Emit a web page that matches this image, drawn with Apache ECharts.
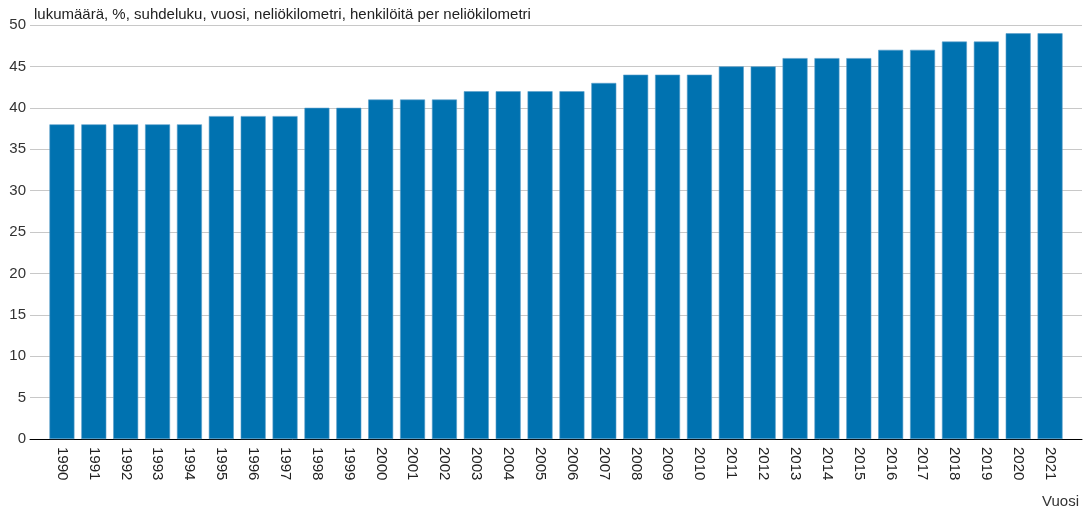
<!DOCTYPE html>
<html>
<head>
<meta charset="utf-8">
<script src="https://cdn.jsdelivr.net/npm/echarts@6/dist/echarts.min.js"></script>
<style>
  html, body { margin: 0; padding: 0; background: #fff; }
  #chart { width: 1084px; height: 516px; }
</style>
</head>
<body>
<div id="chart"></div>
<script>
// vuodet ja arvot
var years = ['1990', '1991', '1992', '1993', '1994', '1995', '1996', '1997', '1998', '1999',
  '2000', '2001', '2002', '2003', '2004', '2005', '2006', '2007', '2008', '2009',
  '2010', '2011', '2012', '2013', '2014', '2015', '2016', '2017', '2018', '2019',
  '2020', '2021'];
var values = [38, 38, 38, 38, 38, 39, 39, 39, 40, 40,
  41, 41, 41, 42, 42, 42, 42, 43, 44, 44,
  44, 45, 45, 46, 46, 46, 47, 47, 48, 48,
  49, 49];
var yTicks = { min: 0, max: 50, interval: 5 };

var chart = echarts.init(document.getElementById('chart'));
var font = 'Liberation Sans, Arial, sans-serif';

chart.setOption({
  animation: false,
  textStyle: { fontFamily: font },
  title: {
    text: 'lukumäärä, %, suhdeluku, vuosi, neliökilometri, henkilöitä per neliökilometri',
    left: 29,
    top: 2,
    textStyle: { fontSize: 15, fontWeight: 'normal', color: '#222', fontFamily: font }
  },
  graphic: [{
    type: 'text',
    right: 5,
    top: 494,
    style: { text: 'Vuosi', fontSize: 15, fill: '#333', fontFamily: font }
  }],
  grid: [
    // taustaruudukko koko leveydeltä
    { left: 30, right: 2, top: 25, bottom: 77 },
    // pylväät
    { left: 46, right: 18, top: 25, bottom: 77 }
  ],
  xAxis: [
    {
      gridIndex: 0,
      type: 'value',
      min: 0, max: 1,
      axisLine: { show: true, onZero: false, lineStyle: { color: '#000', width: 1 } },
      axisTick: { show: false },
      axisLabel: { show: false },
      splitLine: { show: false }
    },
    {
      gridIndex: 1,
      type: 'category',
      data: years,
      axisLine: { show: false },
      axisTick: { show: false },
      axisLabel: {
        rotate: -90,
        margin: 8,
        fontSize: 15,
        color: '#222',
        fontFamily: font,
        interval: 0
      }
    }
  ],
  yAxis: [
    {
      gridIndex: 0,
      type: 'value',
      min: yTicks.min, max: yTicks.max, interval: yTicks.interval,
      axisLine: { show: false },
      axisTick: { show: false },
      axisLabel: { margin: 4, fontSize: 15, color: '#333', fontFamily: font },
      splitLine: { lineStyle: { color: '#c8c8c8', width: 1 } }
    },
    {
      gridIndex: 1,
      type: 'value',
      min: yTicks.min, max: yTicks.max, interval: yTicks.interval,
      show: false,
      splitLine: { show: false }
    }
  ],
  series: [{
    type: 'bar',
    xAxisIndex: 1,
    yAxisIndex: 1,
    data: values,
    barWidth: 25,
    itemStyle: { color: '#0072b0', borderColor: '#5a9fcb', borderWidth: 0.6 }
  }]
});
</script>
</body>
</html>
